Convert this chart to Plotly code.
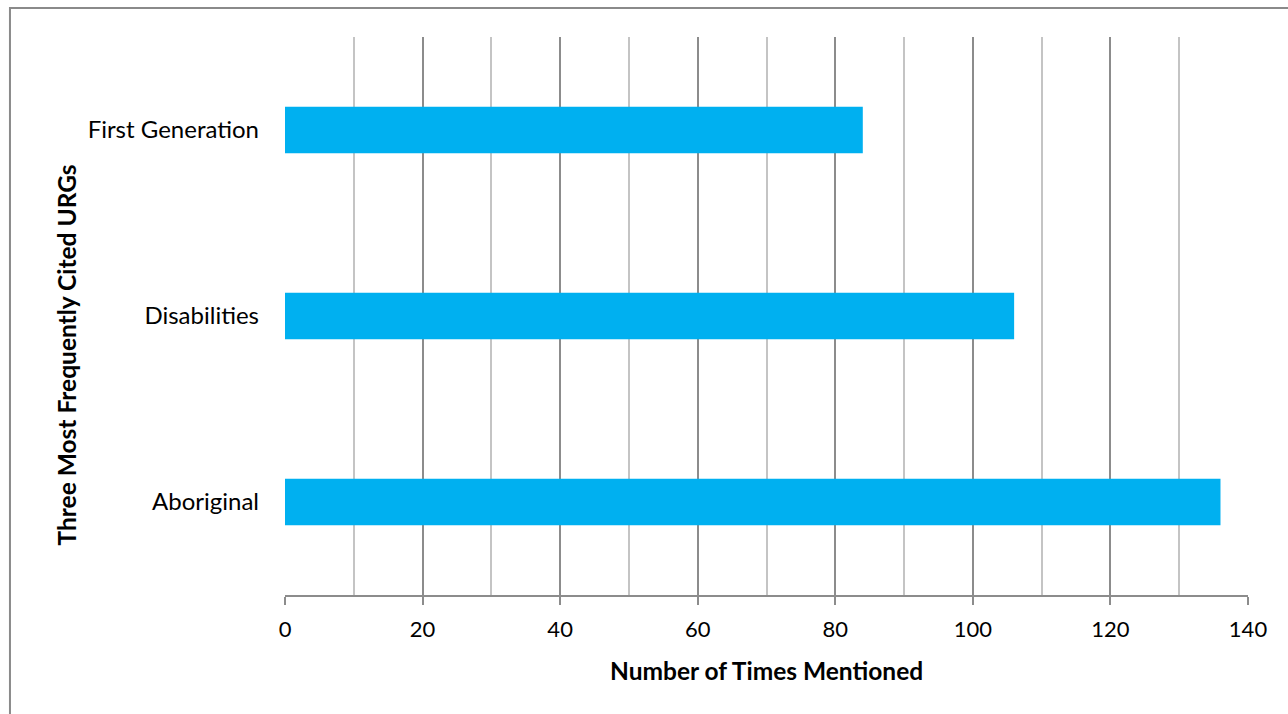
import plotly.graph_objects as go

# Underrepresented groups and how often each was mentioned
groups = ["Aboriginal", "Disabilities", "First Generation"]
mentions = [136, 106, 84]
x_ticks = [0, 20, 40, 60, 80, 100, 120, 140]

BAR_COLOR = "#00B0F0"
MAJOR_GRID = "#8C8C8C"
MINOR_GRID = "#C4C4C4"
FONT = "Lato, 'Open Sans', sans-serif"

fig = go.Figure(
    go.Bar(
        x=mentions,
        y=groups,
        orientation="h",
        width=0.25,
        marker=dict(color=BAR_COLOR, line=dict(width=0)),
        hoverinfo="x+y",
    )
)

fig.update_layout(
    width=1288,
    height=714,
    margin=dict(l=285, r=40, t=37, b=119),
    paper_bgcolor="white",
    plot_bgcolor="white",
    showlegend=False,
    font=dict(family=FONT, color="#000000", size=22),
)

fig.update_xaxes(
    range=[0, 140],
    tickvals=x_ticks,
    ticktext=[str(v) for v in x_ticks],
    showgrid=True,
    gridcolor=MAJOR_GRID,
    gridwidth=1.6,
    minor=dict(dtick=10, tick0=0, showgrid=True, gridcolor=MINOR_GRID, gridwidth=1.6),
    showline=True,
    linecolor=MAJOR_GRID,
    linewidth=1.6,
    ticks="outside",
    ticklen=8,
    tickwidth=1.6,
    tickcolor=MAJOR_GRID,
    ticklabelstandoff=6,
    tickfont=dict(size=22, family=FONT),
    zeroline=False,
    fixedrange=True,
)

fig.update_yaxes(
    categoryorder="array",
    categoryarray=groups,
    showgrid=False,
    showline=False,
    ticks="",
    ticklabelstandoff=25,
    tickfont=dict(size=24, family=FONT),
    zeroline=False,
    fixedrange=True,
)

# Axis titles
fig.add_annotation(
    text="<b>Number of Times Mentioned</b>",
    xref="paper", yref="paper",
    x=0.5, y=-0.135,
    xanchor="center", yanchor="middle",
    showarrow=False,
    font=dict(size=24.5, family=FONT),
)
fig.add_annotation(
    text="<b>Three Most Frequently Cited URGs</b>",
    xref="paper", yref="paper",
    x=-0.227, y=0.43,
    xanchor="center", yanchor="middle",
    textangle=-90,
    showarrow=False,
    font=dict(size=24.5, family=FONT),
)

# Outer chart frame
fig.add_shape(
    type="rect",
    xref="paper", yref="paper",
    x0=-0.2856, x1=1.06, y0=-0.25, y1=1.052,
    line=dict(color="#8A8A8A", width=2),
    fillcolor="rgba(0,0,0,0)",
    layer="below",
)

fig.write_html("out.html")
